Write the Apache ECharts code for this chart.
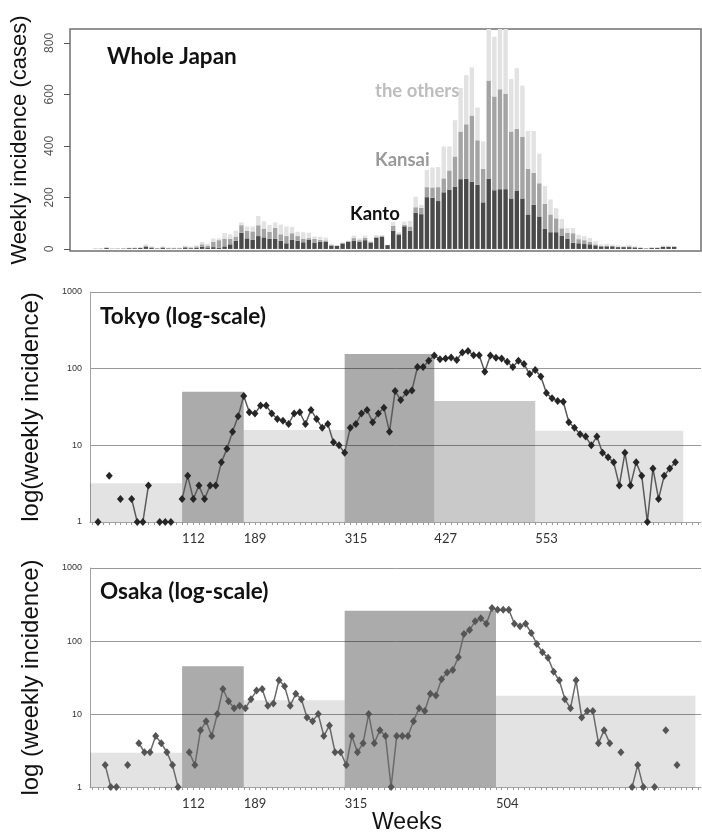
<!DOCTYPE html>
<html>
<head>
<meta charset="utf-8">
<script src="https://cdn.jsdelivr.net/npm/echarts@6/dist/echarts.min.js"></script>
<style>
  html, body { margin: 0; padding: 0; background: #ffffff; }
  #chart { width: 702px; height: 835px; }
</style>
</head>
<body>
<div id="chart"></div>
<script>
// Whole Japan, weekly stacked counts (one bar per week)
const KANTO = [1, 1, 4, 1, 1, 2, 3, 3, 4, 8, 4, 2, 4, 2, 2, 2, 6, 3, 5, 8, 6, 7, 5, 10, 18, 32, 63, 41, 35, 50,
  45, 39, 39, 32, 22, 35, 32, 26, 35, 25, 28, 27, 13, 12, 21, 28, 31, 28, 34, 25, 43, 47, 15, 71, 54, 88, 71, 141, 135, 201,
  199, 186, 220, 229, 242, 271, 272, 261, 249, 181, 273, 228, 232, 232, 196, 225, 196, 134, 171, 126, 79, 65, 65, 52, 40, 24, 22, 19, 18, 14,
  10, 10, 10, 7, 7, 7, 6, 4, 2, 4, 4, 8, 8, 8];
const KANSAI = [0, 0, 1, 0, 1, 0, 1, 1, 1, 5, 3, 1, 3, 2, 2, 2, 3, 3, 5, 10, 7, 21, 29, 30, 22, 16, 29, 29, 33, 42,
  34, 28, 43, 25, 28, 26, 18, 14, 7, 14, 7, 6, 3, 1, 2, 2, 11, 6, 9, 3, 5, 3, 0, 18, 6, 5, 16, 21, 25, 39,
  40, 54, 54, 76, 117, 185, 212, 257, 173, 130, 381, 364, 388, 371, 260, 241, 240, 177, 124, 129, 96, 69, 54, 28, 23, 37, 16, 15, 10, 4,
  2, 3, 2, 2, 2, 3, 1, 1, 1, 1, 1, 2, 2, 2];
const OTHERS = [2, 1, 2, 1, 1, 2, 1, 2, 2, 5, 3, 1, 3, 1, 1, 1, 4, 3, 4, 9, 7, 13, 7, 22, 17, 23, 11, 17, 19, 36,
  28, 26, 21, 37, 37, 24, 17, 25, 21, 9, 12, 11, 4, 2, 3, 2, 10, 7, 9, 4, 6, 4, 1, 15, 5, 13, 22, 41, 11, 67,
  77, 78, 124, 93, 141, 169, 191, 187, 127, 107, 246, 232, 280, 297, 204, 236, 198, 147, 163, 115, 69, 58, 39, 36, 18, 20, 17, 16, 15, 12,
  6, 7, 5, 5, 3, 5, 3, 3, 1, 2, 2, 3, 3, 2];
const WEEKS = KANTO.map((_, i) => i + 1);

// Tokyo weekly incidence (null = zero week, not drawable on log scale)
const TOKYO = [1, null, 4, null, 2, null, 2, 1, 1, 3, null, 1, 1, 1, null, 2, 4, 2, 3, 2, 3, 3, 6, 9, 15, 24, 44, 27, 26, 33,
  33, 26, 22, 21, 19, 26, 27, 19, 29, 22, 17, 19, 11, 10, 8, 17, 19, 26, 29, 20, 26, 31, 15, 51, 39, 49, 52, 105, 105, 127,
  148, 133, 136, 140, 130, 163, 170, 150, 150, 91, 148, 139, 136, 123, 105, 127, 115, 85, 96, 79, 48, 41, 38, 37, 20, 17, 14, 13, 10, 13,
  8, 7, 6, 3, 8, 3, 6, 4, 1, 5, 2, 4, 5, 6];
// Osaka weekly incidence
const OSAKA = [2, 1, 1, null, 2, null, 4, 3, 3, 5, 4, 3, 2, 1, null, 3, 2, 6, 8, 5, 10, 22, 15, 12, 13, 12, 16, 21, 22, 13,
  14, 29, 24, 13, 19, 16, 9, 8, 10, 5, 7, 3, 3, 2, 5, 3, 4, 10, 4, 6, 5, 1, 5, 5, 5, 8, 12, 11, 19, 18,
  30, 37, 40, 60, 125, 142, 186, 205, 173, 283, 268, 268, 268, 172, 160, 172, 129, 91, 70, 59, 38, 29, 16, 12, 29, 9, 11, 11, 4, 6,
  4, null, 3, null, 1, 2, 1, null, 1, null, 6, null, 2];

const TOKYO_FIRST_DAY = 7;
const OSAKA_FIRST_DAY = 16;
const WEEK = 7;

// period rectangles: boundaries (days) and heights (weekly incidence)
const X_MIN = -3;
const X_MAX = 760;
const TOKYO_BOUNDS = [X_MIN, 112, 189, 315, 427, 553, 738];
const TOKYO_LEVELS = [3.2, 50, 15.8, 155, 38, 15.5];
const TOKYO_SHADE = [0, 2, 0, 2, 1, 0];
const OSAKA_BOUNDS = [X_MIN, 112, 189, 315, 504, 753];
const OSAKA_LEVELS = [2.95, 45, 15.4, 260, 17.8];
const OSAKA_SHADE = [0, 2, 0, 2, 0];

const TOKYO_TICK_LABELS = [112, 189, 315, 427, 553];
const OSAKA_TICK_LABELS = [112, 189, 315, 504];
const COUNT_TICKS = [0, 200, 400, 600, 800];
const COUNT_MIN = -8;
const COUNT_MAX = 854;

const SHADES = ["rgba(0,0,0,0.11)", "rgba(0,0,0,0.21)", "rgba(0,0,0,0.33)"];
const WEEK_TICKS = [];
for (let d = 0; d <= X_MAX; d += WEEK) WEEK_TICKS.push(d);

const toPoints = (values, firstDay) => values.map((v, i) => [firstDay + WEEK * i, v]);
const toPeriods = (bounds, levels, shade) =>
  levels.map((h, i) => [bounds[i], bounds[i + 1], h, shade[i]]);

function renderPeriod(params, api) {
  const top = api.coord([api.value(0), api.value(2)]);
  const bottom = api.coord([api.value(1), 1]);
  return {
    type: "rect",
    shape: { x: top[0], y: top[1], width: bottom[0] - top[0], height: bottom[1] - top[1] },
    style: { fill: SHADES[api.value(3)] },
  };
}

const titleFont = { fontFamily: "Lato", fontWeight: "bold", fontSize: 22.5, color: "#111" };
const areaFont = { fontFamily: "Lato", fontWeight: "bold", fontSize: 18.5 };
const axisNameFont = { fontFamily: "Liberation Sans", fontSize: 24, color: "#111" };

function logX(gridIndex, labels, extra) {
  return Object.assign({
    gridIndex,
    type: "value",
    min: X_MIN,
    max: X_MAX,
    axisLine: { show: true, onZero: false, lineStyle: { color: "#a3a3a3", width: 1 } },
    axisTick: { show: true, customValues: WEEK_TICKS, length: 3, lineStyle: { color: "#9a9a9a" } },
    axisLabel: {
      customValues: labels,
      align: "left",
      margin: 10,
      fontFamily: "Lato",
      fontSize: 13,
      color: "#333",
    },
    splitLine: { show: false },
  }, extra || {});
}

function logY(gridIndex, name) {
  return {
    gridIndex,
    type: "log",
    logBase: 10,
    min: 1,
    max: 1000,
    name,
    nameLocation: "middle",
    nameRotate: 90,
    nameGap: 47,
    nameTextStyle: axisNameFont,
    axisLine: { show: true, onZero: false, lineStyle: { color: "#a3a3a3" } },
    axisTick: { show: false },
    axisLabel: { fontFamily: "Liberation Sans", fontSize: 9, color: "#333", margin: 8, formatter: (v) => String(v) },
    splitLine: { show: true, lineStyle: { color: "#9a9a9a", width: 1 } },
  };
}

const chart = echarts.init(document.getElementById("chart"), null, { renderer: "canvas" });

const barBase = { type: "bar", xAxisIndex: 3, yAxisIndex: 3, stack: "japan", barWidth: 4.4, clip: true };

chart.setOption({
  backgroundColor: "#ffffff",
  animation: false,
  title: [
    { text: "Whole Japan", left: 107, top: 45, padding: 0, textStyle: titleFont },
    { text: "the others", left: 375, top: 82, padding: 0, textStyle: Object.assign({ color: "#bdbdbd" }, areaFont) },
    { text: "Kansai", left: 375, top: 151, padding: 0, textStyle: Object.assign({ color: "#9a9a9a" }, areaFont) },
    { text: "Kanto", left: 350, top: 205, padding: 0, textStyle: Object.assign({ color: "#111" }, areaFont) },
    { text: "Tokyo (log-scale)", left: 100, top: 305, padding: 0, textStyle: titleFont },
    { text: "Osaka (log-scale)", left: 100, top: 580, padding: 0, textStyle: titleFont },
  ],
  grid: [
    { left: 70, top: 29, width: 631, height: 222, show: true, borderColor: "#707070", borderWidth: 1.5, backgroundColor: "transparent" },
    { left: 90, top: 292, width: 611, height: 230 },
    { left: 90, top: 568, width: 611, height: 234 },
    { left: 92.5, top: 29, width: 584.5, height: 222 },
  ],
  xAxis: [
    { gridIndex: 0, type: "value", min: 0, max: 1, show: false },
    logX(1, TOKYO_TICK_LABELS),
    logX(2, OSAKA_TICK_LABELS, {
      name: "Weeks",
      nameLocation: "middle",
      nameGap: 11,
      nameTextStyle: { fontFamily: "Liberation Sans", fontSize: 23, color: "#111", verticalAlign: "top", padding: [0, 0, 0, 23] },
    }),
    { gridIndex: 3, type: "category", data: WEEKS, show: false },
  ],
  yAxis: [
    {
      gridIndex: 0,
      type: "value",
      min: COUNT_MIN,
      max: COUNT_MAX,
      name: "Weekly incidence (cases)",
      nameLocation: "middle",
      nameRotate: 90,
      nameGap: 39,
      nameTextStyle: Object.assign({}, axisNameFont, { fontSize: 22 }),
      axisLine: { show: false, onZero: false },
      axisTick: { show: true, customValues: COUNT_TICKS, length: 6, lineStyle: { color: "#555" } },
      axisLabel: { customValues: COUNT_TICKS, rotate: 90, margin: 14, fontFamily: "Liberation Sans", fontSize: 12, color: "#555" },
      splitLine: { show: false },
    },
    logY(1, "log(weekly incidence)"),
    logY(2, "log (weekly incidence)"),
    { gridIndex: 3, type: "value", min: COUNT_MIN, max: COUNT_MAX, show: false },
  ],
  series: [
    Object.assign({}, barBase, { name: "Kanto", data: KANTO, itemStyle: { color: "#4a4a4a" } }),
    Object.assign({}, barBase, { name: "Kansai", data: KANSAI, itemStyle: { color: "#a4a4a4" } }),
    Object.assign({}, barBase, { name: "the others", data: OTHERS, itemStyle: { color: "#e2e2e2" } }),
    {
      type: "custom",
      xAxisIndex: 1,
      yAxisIndex: 1,
      renderItem: renderPeriod,
      encode: { x: [0, 1], y: 2 },
      data: toPeriods(TOKYO_BOUNDS, TOKYO_LEVELS, TOKYO_SHADE),
      z: 1,
      silent: true,
    },
    {
      type: "custom",
      xAxisIndex: 2,
      yAxisIndex: 2,
      renderItem: renderPeriod,
      encode: { x: [0, 1], y: 2 },
      data: toPeriods(OSAKA_BOUNDS, OSAKA_LEVELS, OSAKA_SHADE),
      z: 1,
      silent: true,
    },
    {
      name: "Tokyo",
      type: "line",
      xAxisIndex: 1,
      yAxisIndex: 1,
      data: toPoints(TOKYO, TOKYO_FIRST_DAY),
      symbol: "diamond",
      symbolSize: [7, 8],
      showAllSymbol: true,
      itemStyle: { color: "#262626" },
      lineStyle: { color: "#5a5a5a", width: 1.5 },
      z: 3,
    },
    {
      name: "Osaka",
      type: "line",
      xAxisIndex: 2,
      yAxisIndex: 2,
      data: toPoints(OSAKA, OSAKA_FIRST_DAY),
      symbol: "diamond",
      symbolSize: [7, 8],
      showAllSymbol: true,
      itemStyle: { color: "#555555" },
      lineStyle: { color: "#6a6a6a", width: 1.5 },
      z: 3,
    },
  ],
});
</script>
</body>
</html>
